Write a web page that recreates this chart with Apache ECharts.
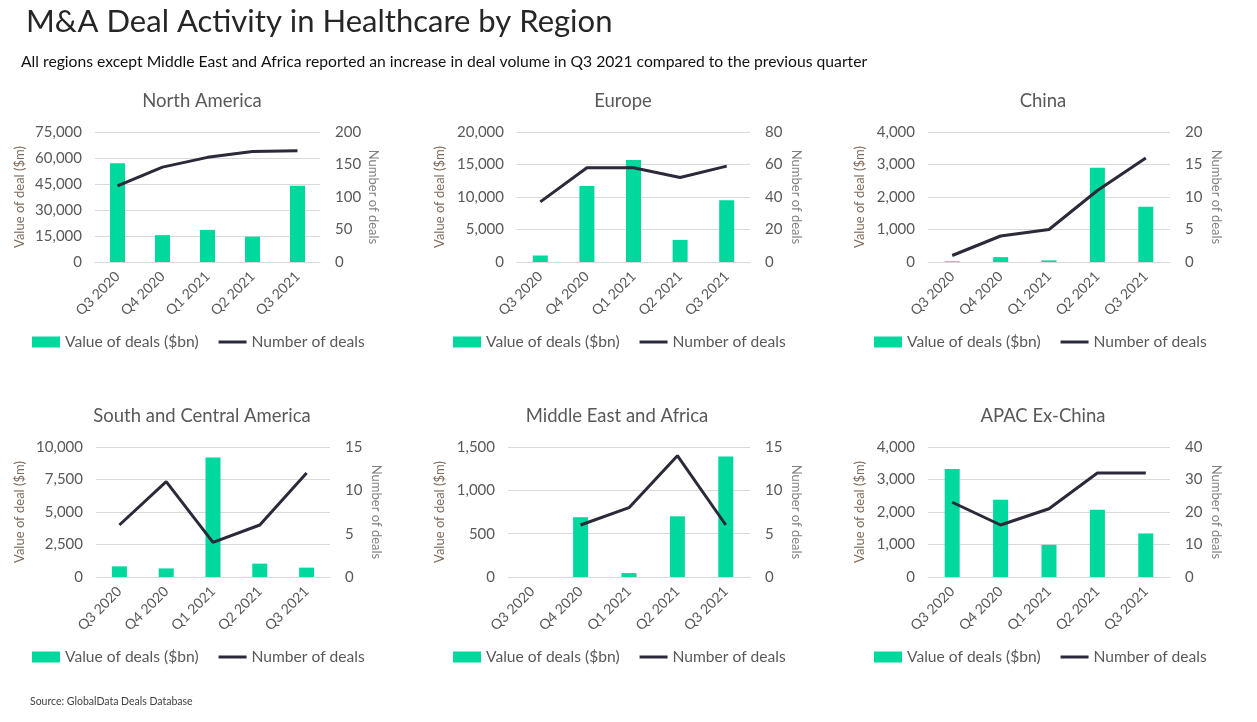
<!DOCTYPE html>
<html><head><meta charset="utf-8">
<script src="https://cdn.jsdelivr.net/npm/echarts@6/dist/echarts.min.js"></script>
<style>html,body{margin:0;padding:0;background:#fff}#c{width:1257px;height:722px}</style>
</head><body><div id="c"></div>
<script>
// ---- data ----
const quarters = ['Q3 2020', 'Q4 2020', 'Q1 2021', 'Q2 2021', 'Q3 2021'];
const regionNames = ['North America', 'Europe', 'China', 'South and Central America', 'Middle East and Africa', 'APAC Ex-China'];
const northAmericaValue = [57000, 15500, 18500, 14600, 44000];
const northAmericaDeals = [117, 146, 161, 170, 171];
const europeValue = [1000, 11700, 15700, 3400, 9500];
const europeDeals = [37, 58, 58, 52, 59];
const chinaValue = [20, 150, 50, 2900, 1700];
const chinaDeals = [1, 4, 5, 11, 16];
const southCentralAmericaValue = [820, 660, 9200, 1030, 720];
const southCentralAmericaDeals = [6, 11, 4, 6, 12];
const middleEastAfricaValue = [null, 690, 45, 700, 1390];
const middleEastAfricaDeals = [null, 6, 8, 14, 6];
const apacExChinaValue = [3320, 2380, 990, 2070, 1340];
const apacExChinaDeals = [23, 16, 21, 32, 32];
const leftAxisMax = [75000, 20000, 4000, 10000, 1500, 4000];
const leftAxisStep = [15000, 5000, 1000, 2500, 500, 1000];
const rightAxisMax = [200, 80, 20, 15, 15, 40];
const rightAxisStep = [50, 20, 5, 5, 5, 10];
const barName = 'Value of deals ($bn)';
const lineName = 'Number of deals';
const leftAxisName = 'Value of deal ($m)';
const rightAxisName = 'Number of deals';

const valueSets = [northAmericaValue, europeValue, chinaValue, southCentralAmericaValue, middleEastAfricaValue, apacExChinaValue];
const dealSets = [northAmericaDeals, europeDeals, chinaDeals, southCentralAmericaDeals, middleEastAfricaDeals, apacExChinaDeals];

// ---- layout ----
const panels = [
  {left: 95, width: 225, top: 132, titleX: 197, titleY: 87, legX: 27, legY: 329, nameL: 20, nameR: 47},
  {left: 517, width: 233, top: 132, titleX: 618, titleY: 87, legX: 448, legY: 329, nameL: 440, nameR: 40},
  {left: 928, width: 242, top: 132, titleX: 1038, titleY: 87, legX: 869, legY: 329, nameL: 860, nameR: 40},
  {left: 96, width: 234, top: 447, titleX: 197, titleY: 402, legX: 27, legY: 644, nameL: 20, nameR: 40},
  {left: 508, width: 242, top: 447, titleX: 612, titleY: 402, legX: 448, legY: 644, nameL: 440, nameR: 40},
  {left: 928, width: 242, top: 447, titleX: 1038, titleY: 402, legX: 869, legY: 644, nameL: 860, nameR: 40}
];
const FONT = 'Lato, "Open Sans", sans-serif';
const BAR = '#00D89E';
const LINE = '#2A2A3A';
const fmt = v => Number(v).toLocaleString('en-US');

const grid = [], xAxis = [], yAxis = [], series = [], legend = [];
const title = [
  {text: 'M&A Deal Activity in Healthcare by Region', left: 21, top: 1,
   textStyle: {fontFamily: FONT, fontSize: 31, fontWeight: 'normal', color: '#262626'}},
  {text: 'All regions except Middle East and Africa reported an increase in deal volume in Q3 2021 compared to the previous quarter',
   left: 16, top: 49, textStyle: {fontFamily: FONT, fontSize: 15.7, fontWeight: 'normal', color: '#111'}},
  {text: 'Source: GlobalData Deals Database', left: 25, top: 691,
   textStyle: {fontFamily: FONT, fontSize: 10.5, fontWeight: 'normal', color: '#404040'}}
];

panels.forEach((p, i) => {
  grid.push({left: p.left, top: p.top, width: p.width, height: 130, containLabel: false});
  title.push({text: regionNames[i], left: p.titleX, top: p.titleY, textAlign: 'center',
    textStyle: {fontFamily: FONT, fontSize: 18.5, fontWeight: 'normal', color: '#595959'}});
  xAxis.push({type: 'category', gridIndex: i, data: quarters,
    axisLine: {lineStyle: {color: '#D9D9D9'}}, axisTick: {show: false},
    axisLabel: {rotate: 45, fontFamily: FONT, fontSize: 14, color: '#595959', margin: 12}});
  yAxis.push({type: 'value', gridIndex: i, min: 0, max: leftAxisMax[i], interval: leftAxisStep[i],
    name: leftAxisName, nameLocation: 'middle', nameGap: p.left - p.nameL - 6,
    nameTextStyle: {fontFamily: FONT, fontSize: 13, color: '#7F6B5B'},
    axisLine: {show: false}, axisTick: {show: false},
    axisLabel: {fontFamily: FONT, fontSize: 15, color: '#595959', margin: 13, formatter: fmt},
    splitLine: {lineStyle: {color: '#D9D9D9', width: 1}}});
  yAxis.push({type: 'value', gridIndex: i, position: 'right', min: 0, max: rightAxisMax[i], interval: rightAxisStep[i],
    name: rightAxisName, nameLocation: 'middle', nameGap: p.nameR, nameRotate: -90,
    nameTextStyle: {fontFamily: FONT, fontSize: 13, color: '#7F7F7F'},
    axisLine: {show: false}, axisTick: {show: false},
    axisLabel: {fontFamily: FONT, fontSize: 15, color: '#595959', margin: 15, formatter: fmt},
    splitLine: {show: false}});
  series.push({type: 'bar', name: barName, xAxisIndex: i, yAxisIndex: 2 * i, data: valueSets[i],
    barWidth: 15, itemStyle: {color: BAR}});
  series.push({type: 'line', name: lineName, xAxisIndex: i, yAxisIndex: 2 * i + 1, data: dealSets[i],
    symbol: 'none', lineStyle: {color: LINE, width: 3}, itemStyle: {color: LINE}, connectNulls: false});
  legend.push({left: p.legX, top: p.legY, itemWidth: 28, itemHeight: 11, itemGap: 20,
    data: [{name: barName, icon: 'rect'},
           {name: lineName, icon: 'path://M0 0H28V3H0Z', itemStyle: {color: LINE}}],
    textStyle: {fontFamily: FONT, fontSize: 15.6, color: '#595959'}});
});

const chart = echarts.init(document.getElementById('c'), null, {renderer: 'canvas'});
chart.setOption({backgroundColor: '#fff', animation: false, title, grid, xAxis, yAxis, series, legend});
</script>
</body></html>
